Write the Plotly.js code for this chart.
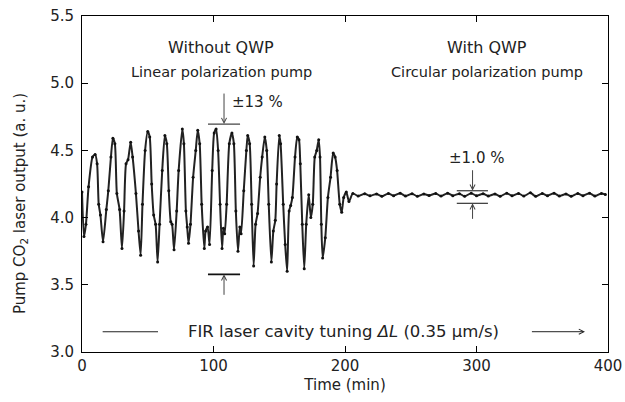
<!DOCTYPE html>
<html>
<head>
<meta charset="utf-8">
<script src="https://cdn.plot.ly/plotly-3.0.1.min.js"></script>
<style>html,body{margin:0;padding:0;background:#fff;}#chart{width:625px;height:402px;}</style>
</head>
<body>
<div id="chart"></div>
<script>
// Time (min) and pump CO2 laser output (a.u.) – without QWP (oscillating part)
const timeOsc = [0,1.5,3,5,8,10,11.5,12.7,14,16,18.5,20,22,23.5,25,26.5,28.6,30.4,32,33.5,35,37,38.5,41,43,44.6,46,48,50,51.5,53,54.5,56,57.5,59,61,63,64.5,66,67.5,68.5,70,72,73.5,76.3,77.5,79,80,81,82.5,84.5,86.5,88,89.5,91,93,94,95.5,97,99,100.5,102,103.5,105,106.5,107.5,108.5,110,112,114,115.5,117,118.6,120,121,123,125,126,127.5,129,130.5,132,133.5,135.5,137,139,140.5,142,144,145.5,147,148,150,151,153,154.5,156,157.5,158.7,160,162,163.7,165,166,167.5,169,170.5,172.4,174,175.5,177,178.5,180,181,182,183,185,187,189,191,192.5,194,196,197.5,199,201,203];
const outOsc = [4.19,3.86,3.95,4.23,4.45,4.47,4.40,4.10,4.02,3.82,4.06,4.20,4.45,4.59,4.55,4.18,4.06,3.77,4.05,4.40,4.43,4.56,4.45,4.18,3.90,3.72,4.10,4.50,4.64,4.60,4.25,4.02,3.95,3.67,3.95,4.35,4.61,4.55,4.20,3.97,3.95,3.76,4.05,4.35,4.66,4.55,4.05,3.93,3.81,3.95,4.30,4.50,4.65,4.55,4.10,3.77,3.90,3.93,3.80,4.35,4.63,4.66,4.50,4.10,3.77,3.92,3.88,4.10,4.55,4.63,4.55,4.05,3.75,3.93,3.88,4.20,4.50,4.61,4.55,4.10,3.64,3.95,4.03,4.30,4.45,4.60,4.50,4.10,3.67,3.90,3.98,4.25,4.61,4.55,4.10,3.80,3.60,4.05,4.09,4.15,4.45,4.60,4.58,4.40,3.95,3.62,3.95,4.17,4.00,4.10,4.45,4.50,4.58,4.45,3.95,3.70,3.85,4.15,4.30,4.48,4.45,4.35,4.10,4.04,4.15,4.19,4.12];
// With QWP (stable part)
const timeStable = [206,210,215,219,224,228,233,237,242,246,251,255,260,264,269,273,278,282,287,291,296,300,305,309,314,318,323,327,332,336,341,345,350,354,359,363,368,372,377,381,386,390,395,398];
const outStable = [4.18,4.16,4.178,4.162,4.176,4.158,4.18,4.163,4.182,4.16,4.178,4.158,4.176,4.164,4.18,4.16,4.182,4.163,4.178,4.158,4.182,4.162,4.178,4.16,4.176,4.158,4.182,4.162,4.18,4.16,4.184,4.158,4.18,4.163,4.182,4.16,4.176,4.158,4.18,4.163,4.182,4.16,4.18,4.172];

const xTicks = [0,100,200,300,400];
const yTicks = [3.0,3.5,4.0,4.5,5.0,5.5];

const FONT = '"DejaVu Sans", "Noto Sans", sans-serif';
const FS = 15;
const ink = '#222';
const grey = '#444';

const trace = {
  x: timeOsc.concat(timeStable),
  y: outOsc.concat(outStable),
  mode: 'lines+markers',
  line: {color: '#222', width: 2, shape: 'spline', smoothing: 0.6},
  marker: {size: 3, color: '#111'},
  showlegend: false,
  hoverinfo: 'skip'
};

function hline(x0, x1, y, col, w) {
  return {type: 'line', xref: 'x', yref: 'y', x0: x0, x1: x1, y0: y, y1: y, line: {color: col, width: w}};
}

const shapes = [
  hline(95.8, 120.2, 4.696, grey, 1.3),
  hline(95.8, 120.2, 3.578, '#111', 1.8),
  hline(285, 308.7, 4.200, grey, 1.3),
  hline(285, 308.7, 4.106, grey, 1.3),
  hline(15.7, 57.8, 3.151, ink, 1.1)
];

function txt(x, y, text, anchor, size) {
  return {x: x, y: y, xref: 'x', yref: 'y', text: text, showarrow: false,
          xanchor: anchor || 'center', yanchor: 'middle',
          font: {family: FONT, size: size || FS, color: ink}};
}
function arrow(x, y, ay) {
  return {x: x, y: y, xref: 'x', yref: 'y', ax: 0, ay: ay, text: '', showarrow: true,
          arrowhead: 5, arrowsize: 1, arrowwidth: 1, arrowcolor: grey, standoff: 0, startstandoff: 0};
}

const annotations = [
  txt(105.7, 5.269, 'Without QWP', 'center', 16),
  txt(105.7, 5.083, 'Linear polarization pump', 'center', 14.5),
  txt(308, 5.269, 'With QWP', 'center', 16),
  txt(308, 5.083, 'Circular polarization pump', 'center', 14.5),
  txt(112.5, 4.86, '±13 %', 'left'),
  txt(277.5, 4.443, '±1.0 %', 'left'),
  txt(199.2, 3.156, 'FIR laser cavity tuning <i>ΔL</i> (0.35 μm/s)', 'center', 16.5),
  arrow(108, 4.696, -32),
  arrow(108, 3.578, 22),
  arrow(297, 4.200, -22),
  arrow(297, 4.106, 17),
  {x: 382.5, y: 3.151, xref: 'x', yref: 'y', axref: 'x', ayref: 'y', ax: 341, ay: 3.151,
   text: '', showarrow: true, arrowhead: 5, arrowsize: 1, arrowwidth: 1, arrowcolor: ink, standoff: 0},
  {x: -0.118, y: 0.443, xref: 'paper', yref: 'paper', textangle: -90, showarrow: false,
   xanchor: 'center', yanchor: 'middle', text: 'Pump CO<sub>2</sub> laser output (a. u.)',
   font: {family: FONT, size: FS, color: ink}}
];

const axisCommon = {
  showgrid: false, zeroline: false, showline: true, mirror: 'ticks',
  linecolor: '#000', linewidth: 1, ticks: 'inside', ticklen: 6, tickcolor: '#000',
  tickfont: {family: FONT, size: FS, color: ink}
};

const layout = {
  width: 625, height: 402,
  margin: {l: 82, r: 17, t: 16, b: 50},
  paper_bgcolor: '#fff', plot_bgcolor: '#fff',
  xaxis: Object.assign({}, axisCommon, {
    range: [0, 400], tickvals: xTicks, ticktext: xTicks.map(String),
    title: {text: 'Time (min)', font: {family: FONT, size: FS, color: ink}, standoff: 5}
  }),
  yaxis: Object.assign({}, axisCommon, {
    range: [3.0, 5.5], tickvals: yTicks, ticktext: yTicks.map(v => v.toFixed(1)),
    ticklabelstandoff: 4
  }),
  shapes: shapes,
  annotations: annotations
};

Plotly.newPlot('chart', [trace], layout, {staticPlot: true, displayModeBar: false});
</script>
</body>
</html>
